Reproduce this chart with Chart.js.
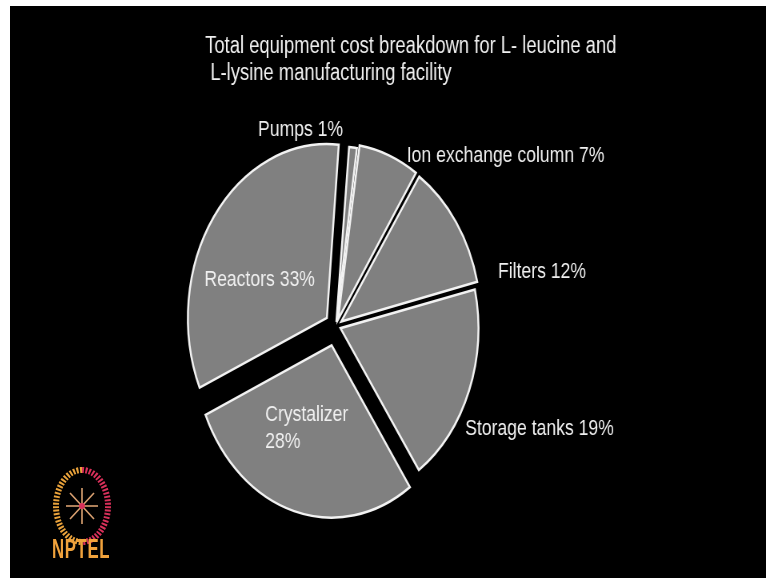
<!DOCTYPE html>
<html>
<head>
<meta charset="utf-8">
<script src="https://cdn.jsdelivr.net/npm/chart.js@4.4.1/dist/chart.umd.min.js"></script>
<style>
  html, body { margin: 0; padding: 0; background: #fff; }
  body { width: 766px; height: 578px; overflow: hidden; position: relative; }
  #slide { position: absolute; left: 10px; top: 6px; width: 756px; height: 572px; background: #000; overflow: hidden; }
  /* the slide is drawn wide and squeezed, which gives the narrow lettering */
  #wrap { position: absolute; left: 0; top: 0; width: 945px; height: 572px; transform: scaleX(0.8); transform-origin: 0 0; }
  #logo { position: absolute; left: 41px; top: 460px; }
  #nptel { position: absolute; left: 42px; top: 527px; color: #f0a23c; font: bold 28px "Liberation Sans", Arial, sans-serif; transform: scaleX(0.6); transform-origin: 0 0; letter-spacing: 1px; }
</style>
</head>
<body>
<div id="slide">
  <div id="wrap"><canvas id="pie" width="945" height="572"></canvas></div>
  <svg id="logo" width="62" height="80" viewBox="0 0 62 80">
    <path d="M31 4 A26 36 0 0 0 31 76" fill="none" stroke="#e9a23b" stroke-width="6" stroke-dasharray="2 1.5"/>
    <path d="M31 4 A26 36 0 0 1 31 76" fill="none" stroke="#d8305a" stroke-width="6" stroke-dasharray="2 1.5"/>
    <g stroke="#d9a070" stroke-width="1.6" fill="none">
      <line x1="31" y1="22" x2="31" y2="58"/>
      <line x1="15" y1="40" x2="47" y2="40"/>
      <line x1="19" y1="27" x2="43" y2="53"/>
      <line x1="43" y1="27" x2="19" y2="53"/>
    </g>
    <circle cx="31" cy="40" r="3" fill="#d8305a"/>
  </svg>
  <div id="nptel">NPTEL</div>
</div>
<script>
// equipment cost shares, clockwise from the top
const labels = ['Pumps', 'Ion exchange column', 'Filters', 'Storage tanks', 'Crystalizer', 'Reactors'];
const shares = [1, 7, 12, 19, 28, 33];
const titleLines = ['Total equipment cost breakdown for L- leucine and', ' L-lysine manufacturing facility'];

// how far each slice is pulled out (Chart.js moves an arc by offset / 4)
const explode = [16, 28, 32, 24, 80, 56];
// where each slice caption sits (canvas px, left / baseline)
const labelAt = [[310, 130], [496, 156], [610, 272], [569, 429], [319, 415], [243, 280]];

const textFont = '"Liberation Sans", Arial, sans-serif';

// title and slice captions
const sliceText = {
    id: 'sliceText',
    afterDraw(chart) {
        const ctx = chart.ctx;
        ctx.save();
        ctx.fillStyle = '#f0f0f0';
        ctx.textAlign = 'left';
        ctx.textBaseline = 'alphabetic';
        ctx.font = '23px ' + textFont;
        titleLines.forEach((t, i) => ctx.fillText(t, 244, 47 + i * 27));

        ctx.font = '22px ' + textFont;
        labels.forEach((name, i) => {
            const [x, y] = labelAt[i];
            const lines = name === 'Crystalizer'
                ? [name, shares[i] + '%']
                : [name + ' ' + shares[i] + '%'];
            lines.forEach((line, j) => ctx.fillText(line, x, y + j * 27));
        });
        ctx.restore();
    }
};

const ctx = document.getElementById('pie').getContext('2d');
new Chart(ctx, {
    type: 'pie',
    data: {
        labels: labels,
        datasets: [{
            data: shares,
            backgroundColor: '#808080',
            borderColor: '#f2f2f2',
            borderWidth: 2.5,
            borderJoinStyle: 'miter',
            offset: explode
        }]
    },
    options: {
        responsive: false,
        animation: false,
        rotation: 5,
        radius: 172,
        layout: { padding: { left: 0, right: 130, top: 68, bottom: 0 } },
        plugins: {
            legend: { display: false },
            tooltip: { enabled: false }
        }
    },
    plugins: [sliceText]
});
</script>
</body>
</html>
